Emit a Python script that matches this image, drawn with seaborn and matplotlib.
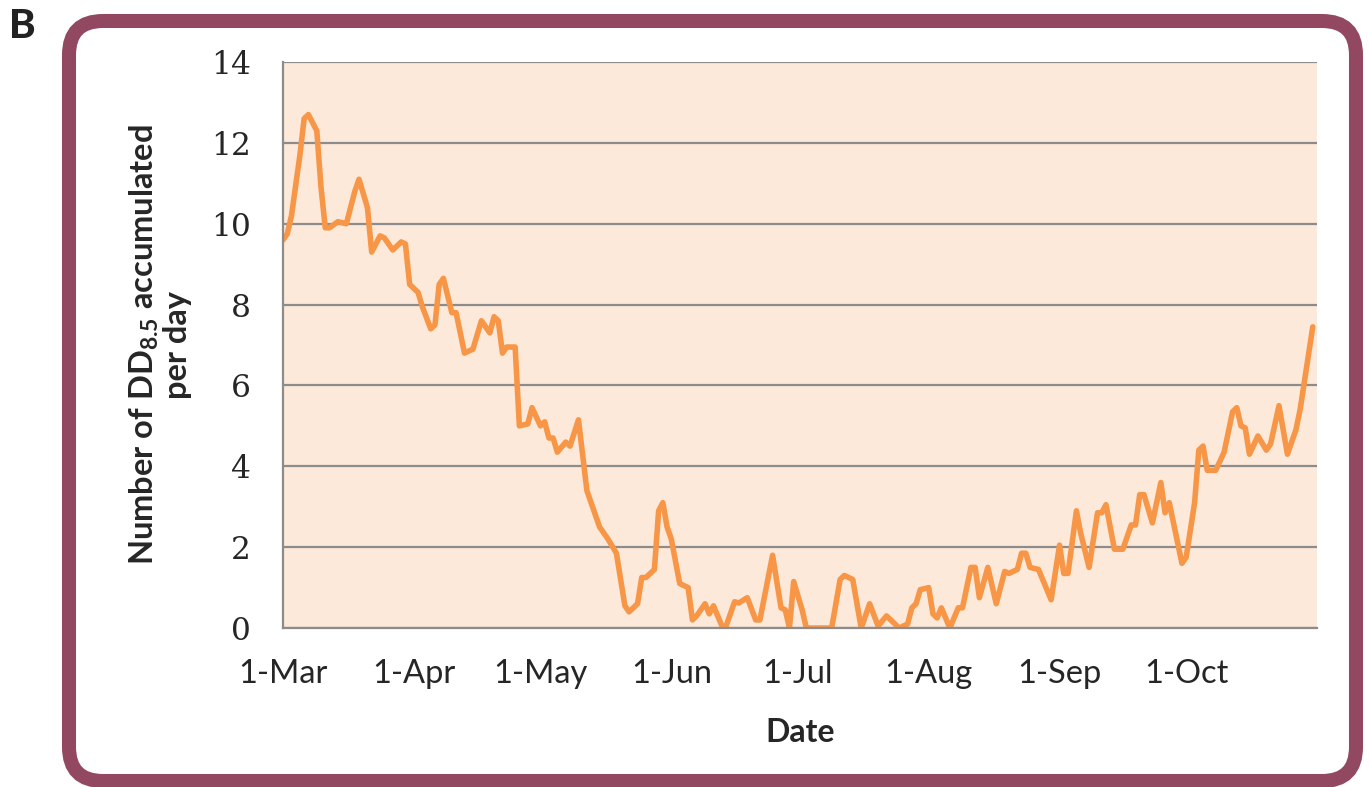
import matplotlib
matplotlib.use('Agg')
import matplotlib.pyplot as plt
import matplotlib.dates as mdates
from matplotlib.patches import FancyBboxPatch
from matplotlib.transforms import IdentityTransform
import seaborn as sns
import pandas as pd

# days since 1-Mar (vertices) and degree-days per day
day_offset = [0, 1, 2, 4, 5, 6, 8, 9, 10, 11, 13, 15, 17, 18, 20, 21, 23, 24, 26, 28,
              29, 30, 32, 33, 35, 36, 37, 38, 40, 41, 43, 45, 47, 49, 50, 51, 52, 53, 55, 56,
              58, 59, 61, 62, 63, 64, 65, 67, 68, 70, 72, 75, 77, 79, 81, 82, 84, 85, 86, 88,
              89, 90, 91, 92, 94, 95, 96, 97, 98, 100, 101, 102, 104, 105, 107, 108, 110, 112, 113, 116,
              118, 119, 120, 121, 123, 124, 130, 132, 133, 135, 137, 139, 141, 143, 146, 148, 149, 150, 151, 153,
              154, 155, 156, 158, 160, 161, 163, 164, 165, 167, 169, 171, 172, 174, 175, 176, 177, 179, 182, 184,
              185, 186, 188, 189, 191, 193, 194, 195, 197, 199, 201, 202, 203, 204, 206, 208, 209, 210, 213, 214,
              216, 217, 218, 219, 221, 223, 225, 226, 227, 228, 229, 231, 233, 234, 236, 238, 240, 241, 244]
dd_per_day = [9.6, 9.75, 10.2, 11.7, 12.6, 12.7, 12.3, 10.9, 9.9, 9.9, 10.05, 10.0, 10.8, 11.1, 10.4, 9.3, 9.7, 9.65, 9.35, 9.55,
              9.5, 8.5, 8.3, 7.95, 7.4, 7.5, 8.5, 8.65, 7.8, 7.8, 6.8, 6.9, 7.6, 7.3, 7.7, 7.6, 6.8, 6.95, 6.95, 5.0,
              5.05, 5.45, 5.0, 5.1, 4.7, 4.7, 4.35, 4.6, 4.5, 5.15, 3.4, 2.5, 2.2, 1.85, 0.55, 0.4, 0.6, 1.25, 1.25, 1.45,
              2.9, 3.1, 2.5, 2.2, 1.1, 1.05, 1.0, 0.2, 0.3, 0.6, 0.35, 0.55, 0.05, 0.05, 0.65, 0.62, 0.75, 0.2, 0.2, 1.8,
              0.5, 0.45, 0.0, 1.15, 0.45, 0.0, 0.0, 1.2, 1.3, 1.2, 0.0, 0.6, 0.05, 0.3, 0.0, 0.1, 0.5, 0.6, 0.95, 1.0,
              0.35, 0.25, 0.5, 0.0, 0.5, 0.5, 1.5, 1.5, 0.75, 1.5, 0.6, 1.4, 1.35, 1.45, 1.85, 1.85, 1.5, 1.45, 0.7, 2.05,
              1.35, 1.35, 2.9, 2.35, 1.5, 2.85, 2.85, 3.05, 1.95, 1.95, 2.55, 2.55, 3.3, 3.3, 2.6, 3.6, 2.85, 3.1, 1.6, 1.75,
              3.1, 4.4, 4.5, 3.9, 3.9, 4.35, 5.35, 5.45, 5.0, 4.95, 4.3, 4.75, 4.4, 4.55, 5.5, 4.3, 4.9, 5.4, 7.45]

df = pd.DataFrame({'Date': pd.Timestamp('2013-03-01') + pd.to_timedelta(day_offset, unit='D'),
                   'DD': dd_per_day})

sns.set_style('white')

fig = plt.figure(figsize=(13.7, 7.87), dpi=100)
ax = fig.add_axes([0.2066, 0.2020, 0.7547, 0.7192])
ax.set_facecolor('#fde9da')

sns.lineplot(data=df, x='Date', y='DD', color='#f79646', linewidth=4, ax=ax)
ax.lines[0].set_solid_joinstyle('round')

ax.set_xlim(pd.Timestamp('2013-03-01'), pd.Timestamp('2013-11-01'))
ax.set_ylim(0, 14)
ax.set_yticks(range(0, 15, 2))
ax.xaxis.set_major_locator(mdates.MonthLocator(bymonth=range(3, 11)))
ax.xaxis.set_major_formatter(mdates.DateFormatter('1-%b'))

ax.grid(axis='y', color='#8c8c8c', linewidth=1.6)
ax.set_axisbelow(True)
for s in ['top', 'right']:
    ax.spines[s].set_visible(False)
for s in ['left', 'bottom']:
    ax.spines[s].set_color('#8c8c8c')
    ax.spines[s].set_linewidth(1.6)
ax.tick_params(axis='both', which='both', direction='out', length=9, width=1.6, color='#8c8c8c')
ax.tick_params(axis='y', pad=14)
ax.tick_params(axis='x', pad=13)

for lab in ax.get_yticklabels():
    lab.set_fontfamily('DejaVu Serif')
    lab.set_fontsize(22.5)
for lab in ax.get_xticklabels():
    lab.set_fontfamily('Lato')
    lab.set_fontsize(23.5)

ax.set_xlabel('Date', fontfamily='Lato', fontweight='bold', fontsize=23, labelpad=21)
ax.set_ylabel('Number of DD$_{\\mathregular{8.5}}$ accumulated\nper day', fontfamily='Lato',
              fontweight='bold', fontsize=23.5, labelpad=14, linespacing=1.05)

# rounded frame around the panel (pixel coordinates)
frame = FancyBboxPatch((69, 6), 1287, 760, boxstyle='round,pad=0,rounding_size=34',
                       transform=IdentityTransform(), facecolor='none', edgecolor='#934862',
                       linewidth=10.1, zorder=-1)
fig.patches.append(frame)
fig.text(9 / 1370, 1 - 27 / 787, 'B', fontfamily='Lato', fontweight='black', fontsize=29,
         va='center', ha='left', color='#222222')

fig.savefig('out.png', dpi=100)
